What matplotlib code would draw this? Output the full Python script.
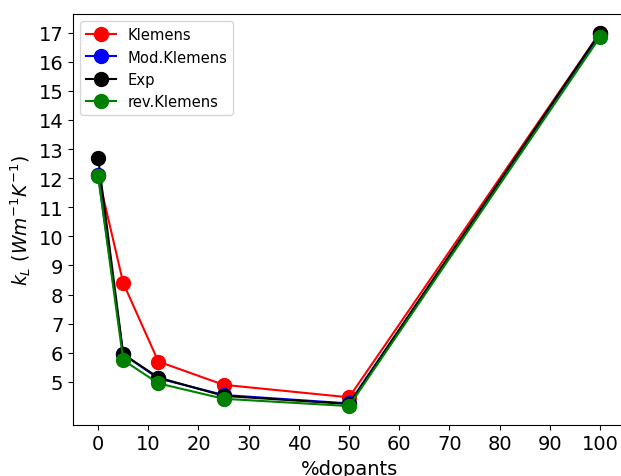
import matplotlib
matplotlib.use("Agg")
import matplotlib.pyplot as plt

dopants = [0, 5, 12, 25, 50, 100]
klemens = [12.1, 8.4, 5.7, 4.9, 4.47, 17.0]
mod_klemens = [12.1, 5.95, 5.12, 4.55, 4.26, 16.95]
exp = [12.7, 5.95, 5.15, 4.52, 4.24, 17.0]
rev_klemens = [12.08, 5.75, 4.95, 4.42, 4.17, 16.85]

fig = plt.figure(figsize=(6.21, 4.77), dpi=100)
ax = fig.add_axes([0.1176, 0.1075, 0.889, 0.861])

ax.plot(dopants, klemens, "o-", color="red", markersize=10, label="Klemens")
ax.plot(dopants, mod_klemens, "o-", color="blue", markersize=10, label="Mod.Klemens")
ax.plot(dopants, exp, "o-", color="black", markersize=10, label="Exp")
ax.plot(dopants, rev_klemens, "o-", color="green", markersize=10, label="rev.Klemens")

ax.set_xticks(range(0, 101, 10))
ax.set_yticks(range(5, 18))
ax.tick_params(labelsize=14)
ax.set_xlabel("%dopants", fontsize=14)
ax.set_ylabel(r"$k_L\ (Wm^{-1}K^{-1})$", fontsize=13.5)
ax.legend(loc="upper left", fontsize=10.6)

fig.savefig("out.png", dpi=100)
